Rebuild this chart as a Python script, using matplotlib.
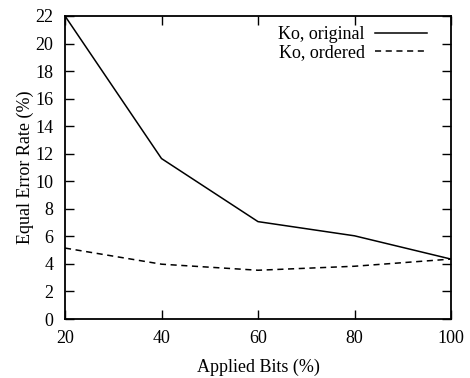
import matplotlib
matplotlib.use('Agg')
import matplotlib.pyplot as plt

# bits applied (%) vs. equal error rate (%)
bits = [20, 40, 60, 80, 100]
eer_original = [22.0, 11.65, 7.07, 6.04, 4.35]
eer_ordered = [5.15, 3.98, 3.54, 3.83, 4.35]

x_ticks = [20, 40, 60, 80, 100]
y_ticks = list(range(0, 23, 2))

plt.rcParams['font.family'] = ['Liberation Serif', 'DejaVu Serif']
plt.rcParams['font.size'] = 13

fig = plt.figure(figsize=(4.7, 3.78), dpi=100)
ax = fig.add_axes([65/470, 1 - 319/378, (451-65)/470, (319-16)/378])

ax.plot(bits, eer_original, color='black', lw=1.1, label='Ko, original')
ax.plot(bits, eer_ordered, color='black', lw=1.1, linestyle=(0, (4, 3)),
        label='Ko, ordered')

ax.set_xlim(20, 100)
ax.set_ylim(0, 22)
ax.set_xticks(x_ticks)
ax.set_yticks(y_ticks)
ax.tick_params(direction='in', top=True, right=True, length=6.5, width=1.0)
ax.tick_params(axis='y', pad=8.5)
ax.tick_params(axis='x', pad=8)
for s in ax.spines.values():
    s.set_linewidth(1.3)

ax.set_xlabel('Applied Bits (%)', labelpad=8)
ax.set_ylabel('Equal Error Rate (%)', labelpad=1)

ax.legend(loc='upper right', frameon=False, markerfirst=False,
          handlelength=2.9, handletextpad=0.55, labelspacing=0.05,
          borderaxespad=0.0, bbox_to_anchor=(0.957, 0.99))

fig.savefig('out.png', dpi=100)
